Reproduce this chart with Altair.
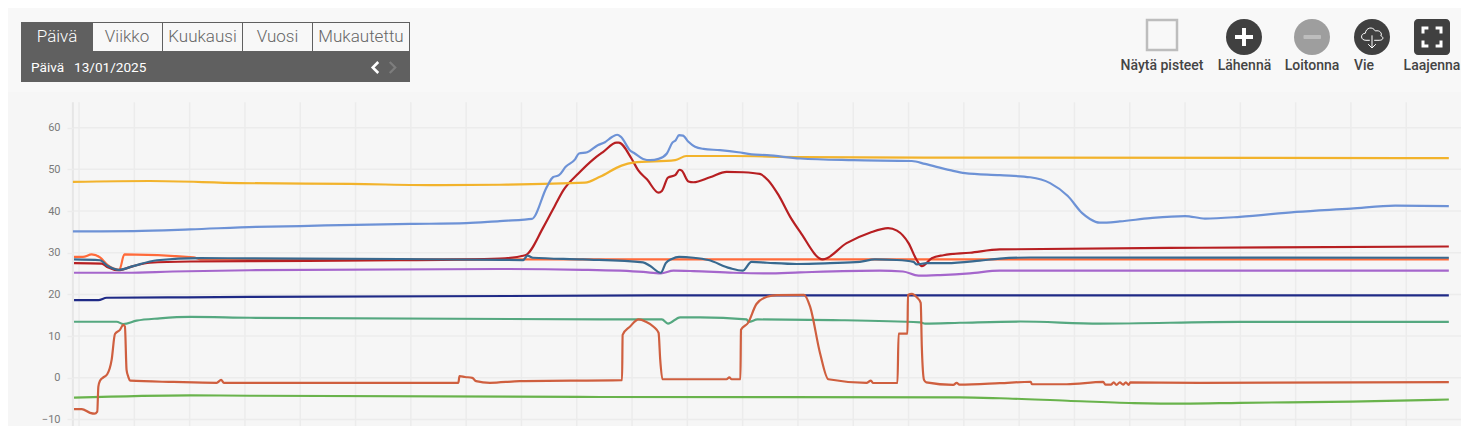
import altair as alt
import pandas as pd

FONT = "Roboto"
PAGE_BG = "#f8f8f8"
PANEL_BG = "#f6f6f6"
GRID = "#ececec"

# time of day in hours, temperature in degrees
y_ticks = [60, 50, 40, 30, 20, 10, 0, -10]
hours = list(range(0, 25))

blue_t = [-0.11, 0.99, 2.01, 3.2, 4, 5, 6, 7, 7.61, 8, 8.19, 8.46, 8.57, 8.68, 8.8, 8.97, 9.04, 9.19, 9.38, 9.51, 9.63, 9.73, 9.8, 9.96, 10.05, 10.2, 10.33, 10.48, 10.63, 10.73, 10.79, 10.85, 10.92, 11.02, 11.14, 11.29, 11.59, 11.92, 12.16, 12.44, 13.04, 14, 15.06, 15.3, 15.75, 16.02, 16.65, 17.2, 17.56, 17.88, 18.14, 18.28, 18.46, 18.82, 19.37, 20, 20.36, 20.99, 22.01, 23, 23.8, 24.77]
blue_v = [35.1, 35.2, 35.6, 36.2, 36.4, 36.7, 36.9, 37.1, 37.6, 37.9, 38.1, 45.8, 48.1, 48.6, 50.6, 52.4, 53.8, 54.1, 55.8, 56.5, 57.7, 58.3, 57.8, 54.6, 53.8, 52.5, 52.2, 52.5, 53.8, 56.4, 57, 58.2, 58.1, 56.6, 55.4, 54.9, 54.6, 54.1, 53.6, 53.4, 52.6, 52.2, 52, 51.3, 49.8, 49.1, 48.6, 48.1, 46.7, 43.6, 39.5, 38.1, 37.2, 37.5, 38.3, 38.8, 38.2, 38.6, 39.8, 40.6, 41.3, 41.2]

yellow_t = [-0.11, 1.28, 2.91, 4.9, 6.53, 7.61, 9.15, 9.42, 9.81, 10.02, 10.78, 10.98, 11.83, 13.04, 16.65, 24.77]
yellow_v = [47, 47.2, 46.7, 46.5, 46.2, 46.3, 46.8, 48.2, 50.9, 51.6, 52.2, 53.2, 53.2, 52.95, 52.8, 52.7]

red_t = [-0.09, 0.41, 0.52, 0.71, 0.98, 1.28, 2.01, 3.09, 5.8, 7.61, 8.07, 8.4, 8.61, 8.76, 9.03, 9.3, 9.48, 9.72, 9.76, 9.99, 10.11, 10.27, 10.48, 10.54, 10.65, 10.78, 10.86, 10.9, 11.02, 11.11, 11.41, 11.71, 12.01, 12.31, 12.46, 12.65, 12.86, 13.04, 13.45, 13.88, 14.3, 14.63, 14.79, 15, 15.15, 15.24, 15.42, 15.63, 16.11, 16.65, 20.27, 24.77]
red_v = [27.5, 27.4, 26.5, 25.8, 26.8, 27.6, 27.9, 28, 28.2, 28.6, 29.4, 36.2, 41.4, 45, 49, 52.4, 54.2, 56.4, 56.4, 52.6, 49.8, 47.6, 44.4, 44.8, 48, 48.6, 49.9, 49.7, 47.1, 46.9, 48.1, 49.4, 49.3, 48.9, 47.4, 43.8, 38.6, 35, 28.4, 32.3, 34.8, 35.9, 35.3, 32.3, 28.2, 26.8, 28.7, 29.4, 30, 30.8, 31.2, 31.5]

orange_t = [-0.09, 0.07, 0.23, 0.38, 0.52, 0.73, 0.82, 2.07, 2.19, 24.77]
orange_v = [29, 29, 29.6, 28.9, 27, 25.9, 29.6, 28.9, 28.4, 28.4]

teal_t = [-0.09, 0.38, 0.52, 0.73, 0.98, 1.41, 2.19, 3.09, 5.8, 7.61, 8.03, 8.11, 8.21, 9.11, 10.2, 10.33, 10.52, 10.61, 10.72, 10.85, 11.11, 11.38, 11.77, 12, 12.16, 12.44, 12.98, 13.58, 14.12, 14.39, 14.79, 15.09, 15.15, 15.33, 15.69, 16.29, 16.65, 17.2, 24.77]
teal_v = [28.4, 28.2, 26.8, 25.9, 26.8, 28.2, 28.7, 28.65, 28.5, 28.3, 28.25, 29.3, 28.8, 28.4, 27.7, 26.8, 25.2, 27.5, 28.5, 29, 28.8, 28.25, 26.3, 25.7, 27.8, 27.6, 27.3, 27.5, 27.8, 28.4, 28.25, 27.8, 27.2, 27.5, 27.5, 28.1, 28.6, 28.85, 28.8]

purple_t = [-0.09, 0.86, 1.7, 3.09, 7.61, 9.11, 10.2, 10.52, 10.75, 11.11, 11.83, 12.44, 13.04, 14.48, 14.9, 15.18, 15.57, 16.11, 16.65, 24.77]
purple_v = [25.2, 25.2, 25.5, 25.8, 26.1, 25.9, 25.4, 25.05, 25.7, 25.6, 25.2, 25.05, 25.3, 25.7, 25.5, 24.5, 24.65, 25.05, 25.7, 25.7]

navy_t = [-0.09, 0.35, 0.5, 1.95, 3.09, 10.33, 24.77]
navy_v = [18.65, 18.65, 19.2, 19.3, 19.4, 19.75, 19.75]

sea_t = [-0.09, 0.68, 0.8, 1.04, 1.46, 2.01, 3.09, 9.42, 10.54, 10.65, 10.87, 11.23, 12.07, 12.11, 12.27, 13.63, 15.21, 15.3, 15.93, 17.02, 18.46, 20.99, 24.77]
sea_v = [13.45, 13.45, 12.9, 13.7, 14.25, 14.6, 14.4, 14, 14, 13, 14.5, 14.5, 14, 13.4, 14, 13.85, 13.3, 13, 13.2, 13.5, 13, 13.4, 13.4]

lime_t = [-0.09, 2.01, 3.09, 9.42, 15.93, 16.65, 17.87, 19.07, 19.97, 20.99, 23, 24.77]
lime_v = [-4.75, -4.2, -4.3, -4.6, -4.7, -4.9, -5.5, -6.05, -6.2, -6, -5.7, -5.2]

coral_t = [-0.09, 0.05, 0.2, 0.28, 0.33, 0.35, 0.38, 0.44, 0.51, 0.59, 0.65, 0.74, 0.8, 0.83, 0.86, 0.89, 0.93, 1.71, 2.49, 2.57, 2.62, 6.86, 6.88, 6.98, 7.11, 7.18, 7.43, 7.97, 9.82, 9.83, 9.96, 10.12, 10.25, 10.39, 10.48, 10.51, 10.55, 11.71, 11.76, 11.8, 11.96, 11.97, 12.1, 12.25, 12.44, 12.62, 13.11, 13.22, 13.4, 13.55, 14.24, 14.32, 14.36, 14.8, 14.82, 14.98, 14.99, 15.06, 15.15, 15.22, 15.24, 15.28, 15.32, 15.81, 15.87, 15.92, 16.65, 17.21, 17.23, 17.86, 18.52, 18.56, 18.66, 18.71, 18.76, 18.82, 18.88, 18.93, 18.98, 19.01, 20.27, 24.77]
coral_v = [-7.5, -7.5, -8.4, -8.6, -8.1, -2.1, -0.7, 0.1, 0.85, 4.3, 10.5, 11.5, 12.7, 12.3, 1.9, 0.3, -0.7, -1, -1.2, -0.5, -1.2, -1.2, 0.4, 0.2, 0, -0.8, -1.2, -0.8, -0.55, 10.3, 12.25, 14, 13.45, 12.25, 10.8, 4.3, -0.35, -0.35, 0.1, -0.35, -0.35, 11.5, 13.2, 17.7, 19.45, 19.85, 19.9, 17.05, 5.9, -0.35, -1.2, -0.7, -1.25, -1.25, 10.6, 10.6, 19.85, 20.15, 19.3, 18, 7.5, -0.5, -1.1, -1.7, -1.2, -1.65, -1.3, -0.95, -1.55, -1.55, -1, -1.65, -1.65, -1.1, -1.7, -1.1, -1.65, -1.1, -1.7, -1.1, -1.2, -1.05]

# drawing order, back to front
series = [
    (lime_t, lime_v, "#69b34c"),
    (sea_t, sea_v, "#55a880"),
    (navy_t, navy_v, "#1f2a86"),
    (coral_t, coral_v, "#cf5f3f"),
    (purple_t, purple_v, "#a566cc"),
    (orange_t, orange_v, "#ff6a3a"),
    (red_t, red_v, "#b71f22"),
    (teal_t, teal_v, "#38698f"),
    (yellow_t, yellow_v, "#f2b32c"),
    (blue_t, blue_v, "#6d92d6"),
]

tabs = ["Viikko", "Kuukausi", "Vuosi", "Mukautettu"]
tab_x = [127, 202.5, 277.5, 361]
tab_dividers = [162.5, 242.5, 312.5, 409.5]
buttons = ["Näytä pisteet", "Lähennä", "Loitonna", "Vie", "Laajenna"]
button_x = [1162, 1244.5, 1312, 1364, 1432]

X_DOMAIN = [-1.284, 24.99]
Y_DOMAIN = [-11.56, 88.7]
W, H = 1453, 418
xs = alt.Scale(domain=X_DOMAIN, nice=False, zero=False)
ys = alt.Scale(domain=Y_DOMAIN, nice=False, zero=False)
one = pd.DataFrame({"a": [0]})
y_axis = alt.Axis(
    orient="left", offset=-65, values=y_ticks, title=None, grid=False, domain=False, zindex=1,
    tickSize=6, tickColor=GRID, tickWidth=1.5, labelPadding=7,
    labelFont=FONT, labelFontSize=11, labelColor="#7a7a7a")


def X(p):
    return alt.value(p - 8)


def Y(p):
    return alt.value(p - 8)


def rect(x0, x1, y0, y1, fill, **kw):
    return alt.Chart(one).mark_rect(fill=fill, **kw).encode(x=X(x0), x2=X(x1), y=Y(y0), y2=Y(y1))


def text(s, x, y, size, color, weight=400, align="center"):
    return alt.Chart(one).mark_text(font=FONT, fontSize=size, fontWeight=weight, color=color,
                                    align=align, baseline="middle").encode(
        x=X(x), y=Y(y), text=alt.value(s))


def icon(path, x, y, width, filled=False, color="white", sw=1.0):
    kw = dict(fill=color, stroke=None, strokeWidth=0, opacity=1) if filled else dict(
        fill=None, stroke=color, strokeWidth=sw, opacity=1)
    return alt.Chart(one).mark_point(shape=path, size=width * width, filled=filled, **kw).encode(
        x=X(x), y=Y(y))


def circle(x, y, d, fill):
    return alt.Chart(one).mark_circle(size=d * d, color=fill, opacity=1).encode(x=X(x), y=Y(y))


layers = [rect(8, 1461, 92, 426, PANEL_BG)]

# grid and axis
vgrid = alt.Chart(pd.DataFrame({"h": hours, "top": 66.1, "bottom": Y_DOMAIN[0]})).mark_rule(
    color=GRID, strokeWidth=1.5).encode(
    x=alt.X("h:Q", scale=xs, axis=None),
    y=alt.Y("top:Q", scale=ys, axis=y_axis),
    y2="bottom:Q")
hgrid = alt.Chart(pd.DataFrame({"v": y_ticks, "x0": -0.11, "x1": X_DOMAIN[1]})).mark_rule(
    color=GRID, strokeWidth=1.5).encode(
    y=alt.Y("v:Q", scale=ys, axis=y_axis),
    x=alt.X("x0:Q", scale=xs, axis=None),
    x2="x1:Q")
y_line = alt.Chart(pd.DataFrame({"h": [-0.11], "top": [66.1], "bottom": [Y_DOMAIN[0]]})).mark_rule(
    color="#e6e6e6", strokeWidth=2).encode(
    x=alt.X("h:Q", scale=xs, axis=None), y=alt.Y("top:Q", scale=ys, axis=y_axis), y2="bottom:Q")
layers += [vgrid, hgrid, y_line]

for t, v, c in series:
    layers.append(
        alt.Chart(pd.DataFrame({"t": t, "v": v})).mark_line(
            color=c, strokeWidth=2.2, strokeJoin="round", clip=True, interpolate="monotone").encode(
            x=alt.X("t:Q", scale=xs, axis=None),
            y=alt.Y("v:Q", scale=ys, axis=y_axis))
    )

# period selector
layers += [
    rect(21, 410, 22, 82, "#606060"),
    rect(93, 409, 23, 51, PAGE_BG),
]
for d in tab_dividers[:-1]:
    layers.append(rect(d - 0.5, d + 0.5, 23, 51, "#606060"))
layers.append(text("Päivä", 57, 37, 17, "#ffffff", 300))
for s, x in zip(tabs, tab_x):
    layers.append(text(s, x, 37, 17, "#666666", 300))
layers += [
    text("Päivä", 31, 67.5, 13.6, "#ffffff", 400, "left"),
    text("13/01/2025", 74, 67.5, 13.6, "#ffffff", 400, "left"),
    icon("M0.5,-1L-0.5,0L0.5,1", 375.5, 67.5, 11, sw=2.6),
    icon("M-0.5,-1L0.5,0L-0.5,1", 392.5, 67.5, 11, color="#7d7d7d", sw=2.2),
]

# toolbar
layers.append(alt.Chart(one).mark_rect(fill=None, stroke="#bdbdbd", strokeWidth=2.5).encode(
    x=X(1147), x2=X(1177), y=Y(20), y2=Y(50)))
layers += [
    circle(1244, 37, 36, "#404040"),
    icon("M-0.22,-1H0.22V-0.22H1V0.22H0.22V1H-0.22V0.22H-1V-0.22H-0.22Z", 1244, 37, 18, filled=True),
    circle(1312, 37, 36, "#9e9e9e"),
    rect(1303.5, 1321, 35, 39, "#bdbdbd", cornerRadius=1),
    circle(1372, 37, 36, "#404040"),
    icon("M-0.55,0.3C-1.05,0.3 -1.1,-0.3 -0.6,-0.35C-0.55,-0.85 0.05,-1 0.3,-0.55C0.75,-0.65 0.95,-0.3 0.8,-0.1C1.1,0 1.05,0.3 0.65,0.3H0.2M-0.2,0.3H-0.55M0,-0.15V1M-0.35,0.65L0,1L0.35,0.65",
         1372, 37, 22, sw=1),
    rect(1414, 1450, 19, 55, "#404040", cornerRadius=4),
    icon("M-1,-0.4V-1H-0.4M0.4,-1H1V-0.4M1,0.4V1H0.4M-0.4,1H-1V0.4", 1432, 37, 18, sw=3),
]
for s, x in zip(buttons, button_x):
    layers.append(text(s, x, 65.5, 14, "#444444", 500))

chart = alt.layer(*layers).properties(
    width=W, height=H, padding=0, background=PAGE_BG,
    autosize=alt.AutoSizeParams(type="none"),
).configure_view(stroke=None)

chart.save("out.html", embed_options={"renderer": "svg", "actions": False})
